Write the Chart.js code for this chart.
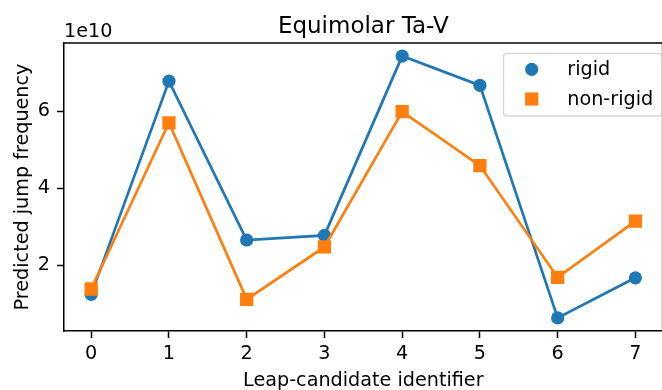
<!DOCTYPE html>
<html>
<head>
<meta charset="utf-8">
<script src="https://cdn.jsdelivr.net/npm/chart.js@4/dist/chart.umd.min.js"></script>
<style>
  html, body { margin: 0; padding: 0; background: #fff; width: 662px; height: 390px; overflow: hidden; }
  #wrap { width: 672px; height: 390px; position: relative; }
  canvas { display: block; }
</style>
</head>
<body>
<div id="wrap"><canvas id="chart" width="672" height="390"></canvas></div>
<script>
// Leap-candidate identifiers (x axis)
const candidates = [0, 1, 2, 3, 4, 5, 6, 7];
// Predicted jump frequency per candidate
const rigid    = [1.25e10, 6.78e10, 2.66e10, 2.78e10, 7.43e10, 6.67e10, 0.64e10, 1.68e10];
const nonRigid = [1.39e10, 5.70e10, 1.12e10, 2.48e10, 5.99e10, 4.59e10, 1.69e10, 3.15e10];
// Tick values
const yTickValues = [2e10, 4e10, 6e10];
const xTickValues = [0, 1, 2, 3, 4, 5, 6, 7];
const yExponent = 10;

const seriesNames = ['rigid', 'non-rigid'];
const BLUE = '#1f77b4';
const ORANGE = '#ff7f0e';
const FONT = "'DejaVu Sans', 'Liberation Sans', sans-serif";
const TICK_PX = 19.2;
const TITLE_PX = 23;

// 5% data margins on both axes
const allY = rigid.concat(nonRigid);
const yLo = Math.min(...allY), yHi = Math.max(...allY);
const yPad = (yHi - yLo) * 0.05;
const xLo = Math.min(...candidates), xHi = Math.max(...candidates);
const xPad = (xHi - xLo) * 0.05;

const toPoints = arr => arr.map((v, i) => ({ x: candidates[i], y: v }));

const decorations = {
  id: 'decorations',
  afterDraw(chart) {
    const ctx = chart.ctx;
    const a = chart.chartArea;
    ctx.save();

    // top and right spines
    ctx.strokeStyle = '#000';
    ctx.lineWidth = 1.5;
    ctx.beginPath();
    ctx.moveTo(a.left, a.top);
    ctx.lineTo(a.right, a.top);
    ctx.lineTo(a.right, a.bottom);
    ctx.stroke();

    ctx.fillStyle = '#000';
    ctx.textBaseline = 'alphabetic';

    // title
    ctx.font = TITLE_PX + 'px ' + FONT;
    ctx.textAlign = 'center';
    ctx.fillText('Equimolar Ta-V', (a.left + a.right) / 2, 32.5);

    // y offset text
    ctx.font = TICK_PX + 'px ' + FONT;
    ctx.textAlign = 'left';
    ctx.fillText('1e' + yExponent, a.left, 36.5);

    // x axis label
    ctx.textAlign = 'center';
    ctx.fillText('Leap-candidate identifier', (a.left + a.right) / 2, 386);

    // y axis label
    ctx.save();
    ctx.translate(27.5, (a.top + a.bottom) / 2);
    ctx.rotate(-Math.PI / 2);
    ctx.fillText('Predicted jump frequency', 0, 0);
    ctx.restore();

    // legend
    const lx = 503.5, ly = 53.5, lw = 158, lh = 62.5, r = 3;
    ctx.beginPath();
    ctx.moveTo(lx + r, ly);
    ctx.lineTo(lx + lw - r, ly);
    ctx.arcTo(lx + lw, ly, lx + lw, ly + r, r);
    ctx.lineTo(lx + lw, ly + lh - r);
    ctx.arcTo(lx + lw, ly + lh, lx + lw - r, ly + lh, r);
    ctx.lineTo(lx + r, ly + lh);
    ctx.arcTo(lx, ly + lh, lx, ly + lh - r, r);
    ctx.lineTo(lx, ly + r);
    ctx.arcTo(lx, ly, lx + r, ly, r);
    ctx.closePath();
    ctx.fillStyle = 'rgba(255,255,255,0.8)';
    ctx.fill();
    ctx.strokeStyle = '#d6d6d6';
    ctx.lineWidth = 1.3;
    ctx.stroke();

    const mx = 531.7;
    const rows = [69.3, 99.0];
    ctx.fillStyle = BLUE;
    ctx.beginPath();
    ctx.arc(mx, rows[0], 6.6, 0, Math.PI * 2);
    ctx.fill();
    ctx.fillStyle = ORANGE;
    ctx.fillRect(mx - 6.6, rows[1] - 6.6, 13.2, 13.2);

    ctx.fillStyle = '#000';
    ctx.font = TICK_PX + 'px ' + FONT;
    ctx.textAlign = 'left';
    ctx.textBaseline = 'middle';
    ctx.fillText(seriesNames[0], 567.3, rows[0] + 1);
    ctx.fillText(seriesNames[1], 567.3, rows[1] + 1);

    ctx.restore();
  }
};

new Chart(document.getElementById('chart'), {
  type: 'line',
  data: {
    datasets: [
      {
        label: seriesNames[0],
        data: toPoints(rigid),
        borderColor: BLUE,
        backgroundColor: BLUE,
        borderWidth: 2.7,
        pointStyle: 'circle',
        pointRadius: 6.6,
        pointBorderWidth: 0,
        pointBackgroundColor: BLUE,
        order: 1,
        tension: 0
      },
      {
        label: seriesNames[1],
        data: toPoints(nonRigid),
        borderColor: ORANGE,
        backgroundColor: ORANGE,
        borderWidth: 2.7,
        pointStyle: 'rect',
        pointRadius: 9.4,
        pointBorderWidth: 0,
        pointBackgroundColor: ORANGE,
        order: 0,
        tension: 0
      }
    ]
  },
  options: {
    responsive: false,
    animation: false,
    devicePixelRatio: 1,
    layout: { padding: { top: 43, left: 0, right: 0.7, bottom: 0 } },
    plugins: {
      legend: { display: false },
      title: { display: false },
      tooltip: { enabled: false }
    },
    scales: {
      x: {
        type: 'linear',
        min: xLo - xPad,
        max: xHi + xPad,
        afterBuildTicks: s => { s.ticks = xTickValues.map(v => ({ value: v })); },
        afterFit: s => { s.height = 59; },
        ticks: {
          color: '#000',
          font: { family: FONT, size: TICK_PX },
          padding: 4,
          maxRotation: 0,
          callback: v => String(v)
        },
        grid: {
          display: true,
          drawOnChartArea: false,
          drawTicks: true,
          tickLength: 7,
          tickWidth: 1.5,
          tickColor: '#000'
        },
        border: { display: true, color: '#000', width: 1.5 }
      },
      y: {
        type: 'linear',
        min: yLo - yPad,
        max: yHi + yPad,
        afterBuildTicks: s => { s.ticks = yTickValues.map(v => ({ value: v })); },
        afterFit: s => { s.width = 64; },
        ticks: {
          color: '#000',
          font: { family: FONT, size: TICK_PX },
          padding: 7,
          callback: v => String(Math.round(v / Math.pow(10, yExponent)))
        },
        grid: {
          display: true,
          drawOnChartArea: false,
          drawTicks: true,
          tickLength: 7,
          tickWidth: 1.5,
          tickColor: '#000'
        },
        border: { display: true, color: '#000', width: 1.5 }
      }
    }
  },
  plugins: [decorations]
});
</script>
</body>
</html>
